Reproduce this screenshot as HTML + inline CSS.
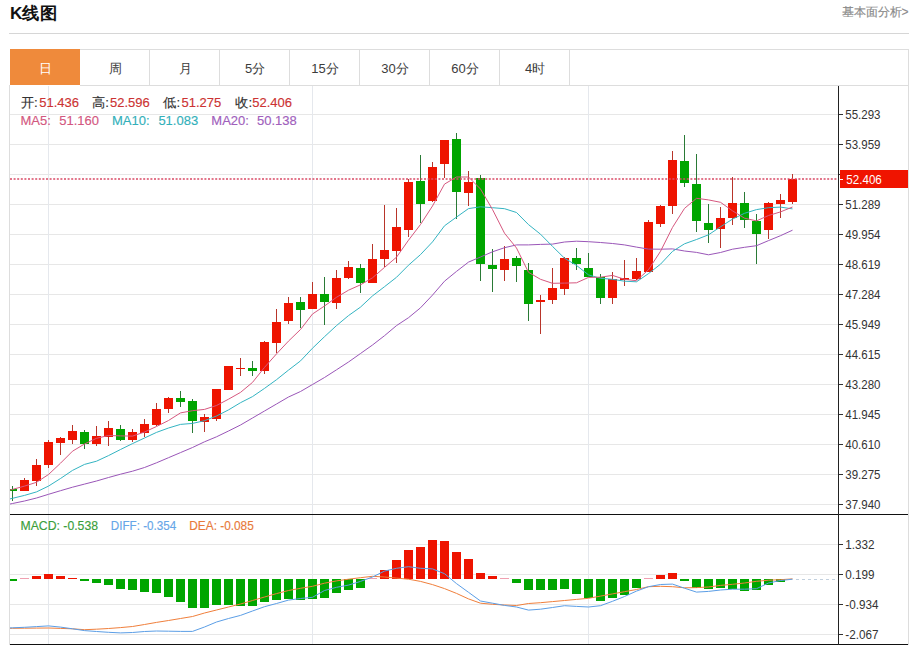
<!DOCTYPE html>
<html><head><meta charset="utf-8"><title>K线图</title>
<style>
html,body{margin:0;padding:0;background:#fff;}
body{width:915px;height:645px;overflow:hidden;position:relative;font-family:"Liberation Sans",sans-serif;}
</style></head><body>
<svg width="915" height="645" viewBox="0 0 915 645" style="position:absolute;left:0;top:0"><defs><clipPath id="cp"><rect x="10" y="86" width="828" height="428"/></clipPath><clipPath id="cp2"><rect x="10" y="515" width="828" height="129"/></clipPath></defs><rect x="9" y="33" width="900" height="1" fill="#d6d6d6"/><rect x="80" y="49" width="829" height="1" fill="#dddddd"/><rect x="80" y="85" width="829" height="1" fill="#dddddd"/><rect x="10" y="49" width="70" height="36" fill="#ef8a3b"/><rect x="149" y="50" width="1" height="35" fill="#dddddd"/><rect x="219" y="50" width="1" height="35" fill="#dddddd"/><rect x="289" y="50" width="1" height="35" fill="#dddddd"/><rect x="359" y="50" width="1" height="35" fill="#dddddd"/><rect x="429" y="50" width="1" height="35" fill="#dddddd"/><rect x="499" y="50" width="1" height="35" fill="#dddddd"/><rect x="569" y="50" width="1" height="35" fill="#dddddd"/><rect x="9" y="85" width="1" height="560" fill="#dddddd"/><rect x="908" y="49" width="1" height="596" fill="#dddddd"/><rect x="10" y="114" width="828" height="1" fill="#e7e7e7"/><rect x="10" y="144" width="828" height="1" fill="#e7e7e7"/><rect x="10" y="174" width="828" height="1" fill="#e7e7e7"/><rect x="10" y="204" width="828" height="1" fill="#e7e7e7"/><rect x="10" y="234" width="828" height="1" fill="#e7e7e7"/><rect x="10" y="264" width="828" height="1" fill="#e7e7e7"/><rect x="10" y="294" width="828" height="1" fill="#e7e7e7"/><rect x="10" y="324" width="828" height="1" fill="#e7e7e7"/><rect x="10" y="354" width="828" height="1" fill="#e7e7e7"/><rect x="10" y="384" width="828" height="1" fill="#e7e7e7"/><rect x="10" y="414" width="828" height="1" fill="#e7e7e7"/><rect x="10" y="444" width="828" height="1" fill="#e7e7e7"/><rect x="10" y="474" width="828" height="1" fill="#e7e7e7"/><rect x="10" y="504" width="828" height="1" fill="#e7e7e7"/><rect x="10" y="544" width="828" height="1" fill="#e7e7e7"/><rect x="10" y="574" width="828" height="1" fill="#e7e7e7"/><rect x="10" y="604" width="828" height="1" fill="#e7e7e7"/><rect x="10" y="634" width="828" height="1" fill="#e7e7e7"/><rect x="48" y="86" width="1" height="428" fill="#e5e8ed"/><rect x="48" y="515" width="1" height="129" fill="#e5e8ed"/><rect x="312" y="86" width="1" height="428" fill="#e5e8ed"/><rect x="312" y="515" width="1" height="129" fill="#e5e8ed"/><rect x="588" y="86" width="1" height="428" fill="#e5e8ed"/><rect x="588" y="515" width="1" height="129" fill="#e5e8ed"/><g clip-path="url(#cp)"><rect x="12" y="486" width="1" height="15" fill="#2a7a36"/><rect x="8" y="489" width="9" height="2" fill="#00a500"/><rect x="24" y="478" width="1" height="13" fill="#b8352a"/><rect x="20" y="480" width="9" height="11" fill="#ee1400"/><rect x="36" y="459" width="1" height="27" fill="#b8352a"/><rect x="32" y="465" width="9" height="16" fill="#ee1400"/><rect x="48" y="440" width="1" height="28" fill="#b8352a"/><rect x="44" y="442" width="9" height="23" fill="#ee1400"/><rect x="60" y="437" width="1" height="18" fill="#b8352a"/><rect x="56" y="438" width="9" height="5" fill="#ee1400"/><rect x="72" y="425" width="1" height="19" fill="#b8352a"/><rect x="68" y="431" width="9" height="9" fill="#ee1400"/><rect x="84" y="430" width="1" height="19" fill="#2a7a36"/><rect x="80" y="432" width="9" height="12" fill="#00a500"/><rect x="96" y="426" width="1" height="20" fill="#b8352a"/><rect x="92" y="436" width="9" height="8" fill="#ee1400"/><rect x="108" y="421" width="1" height="25" fill="#b8352a"/><rect x="104" y="428" width="9" height="9" fill="#ee1400"/><rect x="120" y="425" width="1" height="16" fill="#2a7a36"/><rect x="116" y="429" width="9" height="11" fill="#00a500"/><rect x="132" y="429" width="1" height="13" fill="#b8352a"/><rect x="128" y="432" width="9" height="8" fill="#ee1400"/><rect x="144" y="419" width="1" height="18" fill="#b8352a"/><rect x="140" y="424" width="9" height="9" fill="#ee1400"/><rect x="156" y="403" width="1" height="23" fill="#b8352a"/><rect x="152" y="409" width="9" height="16" fill="#ee1400"/><rect x="168" y="397" width="1" height="16" fill="#b8352a"/><rect x="164" y="398" width="9" height="11" fill="#ee1400"/><rect x="180" y="391" width="1" height="16" fill="#2a7a36"/><rect x="176" y="398" width="9" height="4" fill="#00a500"/><rect x="192" y="399" width="1" height="34" fill="#2a7a36"/><rect x="188" y="401" width="9" height="20" fill="#00a500"/><rect x="204" y="414" width="1" height="18" fill="#b8352a"/><rect x="200" y="417" width="9" height="5" fill="#ee1400"/><rect x="216" y="389" width="1" height="32" fill="#b8352a"/><rect x="212" y="389" width="9" height="30" fill="#ee1400"/><rect x="228" y="366" width="1" height="24" fill="#b8352a"/><rect x="224" y="366" width="9" height="24" fill="#ee1400"/><rect x="240" y="358" width="1" height="18" fill="#b8352a"/><rect x="236" y="368" width="9" height="1" fill="#ee1400"/><rect x="252" y="361" width="1" height="15" fill="#2a7a36"/><rect x="248" y="368" width="9" height="3" fill="#00a500"/><rect x="264" y="341" width="1" height="33" fill="#b8352a"/><rect x="260" y="342" width="9" height="29" fill="#ee1400"/><rect x="276" y="309" width="1" height="44" fill="#b8352a"/><rect x="272" y="322" width="9" height="21" fill="#ee1400"/><rect x="288" y="297" width="1" height="27" fill="#b8352a"/><rect x="284" y="303" width="9" height="18" fill="#ee1400"/><rect x="300" y="297" width="1" height="31" fill="#2a7a36"/><rect x="296" y="302" width="9" height="8" fill="#00a500"/><rect x="312" y="282" width="1" height="27" fill="#b8352a"/><rect x="308" y="294" width="9" height="15" fill="#ee1400"/><rect x="324" y="277" width="1" height="48" fill="#2a7a36"/><rect x="320" y="294" width="9" height="8" fill="#00a500"/><rect x="336" y="270" width="1" height="39" fill="#b8352a"/><rect x="332" y="278" width="9" height="25" fill="#ee1400"/><rect x="348" y="261" width="1" height="18" fill="#b8352a"/><rect x="344" y="267" width="9" height="11" fill="#ee1400"/><rect x="360" y="264" width="1" height="29" fill="#2a7a36"/><rect x="356" y="268" width="9" height="15" fill="#00a500"/><rect x="372" y="244" width="1" height="39" fill="#b8352a"/><rect x="368" y="259" width="9" height="24" fill="#ee1400"/><rect x="384" y="205" width="1" height="62" fill="#b8352a"/><rect x="380" y="250" width="9" height="9" fill="#ee1400"/><rect x="396" y="208" width="1" height="55" fill="#b8352a"/><rect x="392" y="227" width="9" height="24" fill="#ee1400"/><rect x="408" y="179" width="1" height="58" fill="#b8352a"/><rect x="404" y="182" width="9" height="48" fill="#ee1400"/><rect x="420" y="155" width="1" height="68" fill="#2a7a36"/><rect x="416" y="181" width="9" height="23" fill="#00a500"/><rect x="432" y="162" width="1" height="40" fill="#b8352a"/><rect x="428" y="167" width="9" height="34" fill="#ee1400"/><rect x="444" y="140" width="1" height="38" fill="#b8352a"/><rect x="440" y="140" width="9" height="24" fill="#ee1400"/><rect x="456" y="133" width="1" height="86" fill="#2a7a36"/><rect x="452" y="139" width="9" height="53" fill="#00a500"/><rect x="468" y="171" width="1" height="35" fill="#b8352a"/><rect x="464" y="182" width="9" height="11" fill="#ee1400"/><rect x="480" y="175" width="1" height="106" fill="#2a7a36"/><rect x="476" y="178" width="9" height="86" fill="#00a500"/><rect x="492" y="249" width="1" height="43" fill="#2a7a36"/><rect x="488" y="265" width="9" height="4" fill="#00a500"/><rect x="504" y="246" width="1" height="35" fill="#b8352a"/><rect x="500" y="259" width="9" height="11" fill="#ee1400"/><rect x="516" y="256" width="1" height="26" fill="#2a7a36"/><rect x="512" y="258" width="9" height="8" fill="#00a500"/><rect x="528" y="263" width="1" height="58" fill="#2a7a36"/><rect x="524" y="270" width="9" height="34" fill="#00a500"/><rect x="540" y="295" width="1" height="39" fill="#b8352a"/><rect x="536" y="300" width="9" height="2" fill="#ee1400"/><rect x="552" y="268" width="1" height="36" fill="#b8352a"/><rect x="548" y="288" width="9" height="12" fill="#ee1400"/><rect x="564" y="257" width="1" height="38" fill="#b8352a"/><rect x="560" y="258" width="9" height="31" fill="#ee1400"/><rect x="576" y="248" width="1" height="22" fill="#2a7a36"/><rect x="572" y="258" width="9" height="6" fill="#00a500"/><rect x="588" y="253" width="1" height="24" fill="#2a7a36"/><rect x="584" y="268" width="9" height="9" fill="#00a500"/><rect x="600" y="274" width="1" height="30" fill="#2a7a36"/><rect x="596" y="277" width="9" height="21" fill="#00a500"/><rect x="612" y="272" width="1" height="32" fill="#b8352a"/><rect x="608" y="279" width="9" height="19" fill="#ee1400"/><rect x="624" y="260" width="1" height="26" fill="#b8352a"/><rect x="620" y="278" width="9" height="2" fill="#ee1400"/><rect x="636" y="258" width="1" height="22" fill="#b8352a"/><rect x="632" y="271" width="9" height="8" fill="#ee1400"/><rect x="648" y="220" width="1" height="52" fill="#b8352a"/><rect x="644" y="222" width="9" height="50" fill="#ee1400"/><rect x="660" y="205" width="1" height="22" fill="#b8352a"/><rect x="656" y="206" width="9" height="18" fill="#ee1400"/><rect x="672" y="151" width="1" height="63" fill="#b8352a"/><rect x="668" y="160" width="9" height="46" fill="#ee1400"/><rect x="684" y="135" width="1" height="52" fill="#2a7a36"/><rect x="680" y="161" width="9" height="22" fill="#00a500"/><rect x="696" y="154" width="1" height="78" fill="#2a7a36"/><rect x="692" y="184" width="9" height="37" fill="#00a500"/><rect x="708" y="204" width="1" height="39" fill="#2a7a36"/><rect x="704" y="223" width="9" height="7" fill="#00a500"/><rect x="720" y="207" width="1" height="41" fill="#b8352a"/><rect x="716" y="218" width="9" height="11" fill="#ee1400"/><rect x="732" y="177" width="1" height="48" fill="#b8352a"/><rect x="728" y="203" width="9" height="15" fill="#ee1400"/><rect x="744" y="192" width="1" height="36" fill="#2a7a36"/><rect x="740" y="203" width="9" height="17" fill="#00a500"/><rect x="756" y="214" width="1" height="50" fill="#2a7a36"/><rect x="752" y="221" width="9" height="13" fill="#00a500"/><rect x="768" y="202" width="1" height="37" fill="#b8352a"/><rect x="764" y="203" width="9" height="27" fill="#ee1400"/><rect x="780" y="194" width="1" height="24" fill="#b8352a"/><rect x="776" y="200" width="9" height="4" fill="#ee1400"/><rect x="792" y="174" width="1" height="30" fill="#b8352a"/><rect x="788" y="179" width="9" height="23" fill="#ee1400"/><polyline points="0.5,506.0 12.5,503.5 24.5,501.0 36.5,498.0 48.5,494.3 60.5,490.7 72.5,487.2 84.5,484.1 96.5,481.0 108.5,477.5 120.5,474.2 132.5,471.2 144.5,467.5 156.5,462.8 168.5,457.7 180.5,452.6 192.5,447.5 204.5,441.8 216.5,436.8 228.5,431.0 240.5,425.0 252.5,418.0 264.5,411.0 276.5,404.0 288.5,397.0 300.5,391.5 312.5,384.5 324.5,377.5 336.5,369.8 348.5,362.0 360.5,353.5 372.5,345.0 384.5,335.7 396.5,325.6 408.5,317.7 420.5,307.8 432.5,295.1 444.5,281.2 456.5,271.4 468.5,262.1 480.5,257.0 492.5,251.8 504.5,247.7 516.5,244.9 528.5,244.9 540.5,244.4 552.5,244.1 564.5,242.0 576.5,241.2 588.5,241.7 600.5,242.5 612.5,243.5 624.5,244.9 636.5,247.1 648.5,249.1 660.5,249.2 672.5,248.9 684.5,251.0 696.5,252.4 708.5,254.8 720.5,252.5 732.5,249.2 744.5,247.3 756.5,245.7 768.5,240.6 780.5,235.7 792.5,230.2" fill="none" stroke="#9a56b8" stroke-width="1" /><polyline points="0.5,501.2 12.5,498.3 24.5,495.4 36.5,491.9 48.5,486.1 60.5,478.5 72.5,470.4 84.5,464.4 96.5,461.2 108.5,455.6 120.5,449.5 132.5,443.6 144.5,438.0 156.5,432.4 168.5,428.0 180.5,424.4 192.5,423.4 204.5,420.7 216.5,416.0 228.5,409.9 240.5,402.7 252.5,396.6 264.5,388.4 276.5,379.7 288.5,370.1 300.5,360.9 312.5,348.2 324.5,336.7 336.5,325.6 348.5,315.6 360.5,307.1 372.5,295.9 384.5,286.7 396.5,277.3 408.5,265.2 420.5,254.6 432.5,241.9 444.5,225.8 456.5,217.1 468.5,208.6 480.5,206.8 492.5,207.7 504.5,208.7 516.5,212.5 528.5,224.6 540.5,234.2 552.5,246.4 564.5,258.2 576.5,265.4 588.5,274.9 600.5,278.3 612.5,279.3 624.5,281.2 636.5,281.8 648.5,273.6 660.5,264.2 672.5,251.4 684.5,243.8 696.5,239.5 708.5,234.8 720.5,226.8 732.5,219.1 744.5,213.3 756.5,209.6 768.5,207.7 780.5,207.1 792.5,208.9" fill="none" stroke="#34b4c2" stroke-width="1" /><polyline points="0.5,492.7 12.5,489.4 24.5,486.1 36.5,482.3 48.5,474.5 60.5,463.2 72.5,451.2 84.5,444.0 96.5,438.3 108.5,435.5 120.5,435.9 132.5,436.1 144.5,432.0 156.5,426.5 168.5,420.5 180.5,412.9 192.5,410.7 204.5,409.4 216.5,405.5 228.5,399.2 240.5,392.4 252.5,382.4 264.5,367.4 276.5,353.9 288.5,341.1 300.5,329.5 312.5,314.0 324.5,306.0 336.5,297.3 348.5,290.2 360.5,284.8 372.5,277.8 384.5,267.4 396.5,257.2 408.5,240.2 420.5,224.5 432.5,206.0 444.5,184.1 456.5,177.0 468.5,177.0 480.5,189.0 492.5,209.5 504.5,233.2 516.5,248.0 528.5,272.3 540.5,279.3 552.5,283.3 564.5,283.1 576.5,282.8 588.5,277.4 600.5,277.2 612.5,275.4 624.5,279.3 636.5,280.7 648.5,269.7 660.5,251.3 672.5,227.4 684.5,208.4 696.5,198.3 708.5,199.9 720.5,202.3 732.5,210.8 744.5,218.2 756.5,220.9 768.5,215.5 780.5,211.9 792.5,207.0" fill="none" stroke="#d6587f" stroke-width="1" /><line x1="10" y1="179" x2="838" y2="179" stroke="#d94a66" stroke-width="1.6" stroke-dasharray="2 1.6"/></g><g clip-path="url(#cp2)"><rect x="8" y="579" width="9" height="2" fill="#00a500"/><rect x="20" y="578" width="9" height="1" fill="#f0a0b0"/><rect x="32" y="576" width="9" height="3" fill="#ee1400"/><rect x="44" y="574" width="9" height="5" fill="#ee1400"/><rect x="56" y="576" width="9" height="3" fill="#ee1400"/><rect x="68" y="578" width="9" height="1" fill="#ee1400"/><rect x="80" y="579" width="9" height="2" fill="#00a500"/><rect x="92" y="579" width="9" height="4" fill="#00a500"/><rect x="104" y="579" width="9" height="6" fill="#00a500"/><rect x="116" y="579" width="9" height="10" fill="#00a500"/><rect x="128" y="579" width="9" height="11" fill="#00a500"/><rect x="140" y="579" width="9" height="13" fill="#00a500"/><rect x="152" y="579" width="9" height="14" fill="#00a500"/><rect x="164" y="579" width="9" height="18" fill="#00a500"/><rect x="176" y="579" width="9" height="23" fill="#00a500"/><rect x="188" y="579" width="9" height="29" fill="#00a500"/><rect x="200" y="579" width="9" height="29" fill="#00a500"/><rect x="212" y="579" width="9" height="26" fill="#00a500"/><rect x="224" y="579" width="9" height="26" fill="#00a500"/><rect x="236" y="579" width="9" height="27" fill="#00a500"/><rect x="248" y="579" width="9" height="27" fill="#00a500"/><rect x="260" y="579" width="9" height="23" fill="#00a500"/><rect x="272" y="579" width="9" height="21" fill="#00a500"/><rect x="284" y="579" width="9" height="20" fill="#00a500"/><rect x="296" y="579" width="9" height="21" fill="#00a500"/><rect x="308" y="579" width="9" height="20" fill="#00a500"/><rect x="320" y="579" width="9" height="19" fill="#00a500"/><rect x="332" y="579" width="9" height="14" fill="#00a500"/><rect x="344" y="579" width="9" height="11" fill="#00a500"/><rect x="356" y="579" width="9" height="9" fill="#00a500"/><rect x="368" y="578" width="9" height="1" fill="#f0a0b0"/><rect x="380" y="570" width="9" height="9" fill="#ee1400"/><rect x="392" y="560" width="9" height="19" fill="#ee1400"/><rect x="404" y="550" width="9" height="29" fill="#ee1400"/><rect x="416" y="547" width="9" height="32" fill="#ee1400"/><rect x="428" y="540" width="9" height="39" fill="#ee1400"/><rect x="440" y="541" width="9" height="38" fill="#ee1400"/><rect x="452" y="552" width="9" height="27" fill="#ee1400"/><rect x="464" y="559" width="9" height="20" fill="#ee1400"/><rect x="476" y="573" width="9" height="6" fill="#ee1400"/><rect x="488" y="576" width="9" height="3" fill="#ee1400"/><rect x="500" y="578" width="9" height="1" fill="#f0a0b0"/><rect x="512" y="579" width="9" height="4" fill="#00a500"/><rect x="524" y="579" width="9" height="11" fill="#00a500"/><rect x="536" y="579" width="9" height="11" fill="#00a500"/><rect x="548" y="579" width="9" height="11" fill="#00a500"/><rect x="560" y="579" width="9" height="10" fill="#00a500"/><rect x="572" y="579" width="9" height="15" fill="#00a500"/><rect x="584" y="579" width="9" height="19" fill="#00a500"/><rect x="596" y="579" width="9" height="22" fill="#00a500"/><rect x="608" y="579" width="9" height="19" fill="#00a500"/><rect x="620" y="579" width="9" height="16" fill="#00a500"/><rect x="632" y="579" width="9" height="9" fill="#00a500"/><rect x="644" y="578" width="9" height="1" fill="#f0a0b0"/><rect x="656" y="575" width="9" height="4" fill="#ee1400"/><rect x="668" y="573" width="9" height="6" fill="#ee1400"/><rect x="680" y="579" width="9" height="2" fill="#00a500"/><rect x="692" y="579" width="9" height="9" fill="#00a500"/><rect x="704" y="579" width="9" height="10" fill="#00a500"/><rect x="716" y="579" width="9" height="9" fill="#00a500"/><rect x="728" y="579" width="9" height="10" fill="#00a500"/><rect x="740" y="579" width="9" height="12" fill="#00a500"/><rect x="752" y="579" width="9" height="11" fill="#00a500"/><rect x="764" y="579" width="9" height="6" fill="#00a500"/><rect x="776" y="579" width="9" height="3" fill="#00a500"/><polyline points="0.5,628.4 12.5,628.3 24.5,628.2 36.5,628.1 48.5,628.0 60.5,628.4 72.5,628.8 84.5,629.7 96.5,629.2 108.5,628.5 120.5,627.6 132.5,626.5 144.5,624.5 156.5,622.4 168.5,620.5 180.5,618.5 192.5,616.5 204.5,613.0 216.5,610.0 228.5,607.0 240.5,604.0 252.5,600.5 264.5,597.0 276.5,593.6 288.5,590.5 300.5,588.3 312.5,586.3 324.5,583.2 336.5,580.9 348.5,579.2 360.5,577.7 372.5,576.3 384.5,577.0 396.5,578.1 408.5,579.2 420.5,581.4 432.5,584.6 444.5,588.6 456.5,593.4 468.5,598.9 480.5,603.2 492.5,604.3 504.5,605.0 516.5,605.5 528.5,603.5 540.5,602.7 552.5,601.6 564.5,600.5 576.5,599.4 588.5,598.3 600.5,596.1 612.5,593.9 624.5,591.7 636.5,589.5 648.5,586.7 660.5,586.3 672.5,586.7 684.5,587.8 696.5,587.6 708.5,587.0 720.5,585.4 732.5,584.3 744.5,583.0 756.5,581.3 768.5,580.2 780.5,579.7 792.5,578.9" fill="none" stroke="#f07f3c" stroke-width="1"/><polyline points="0.5,628.3 12.5,627.8 24.5,627.3 36.5,626.6 48.5,625.9 60.5,627.1 72.5,628.8 84.5,630.6 96.5,631.5 108.5,632.3 120.5,632.9 132.5,632.5 144.5,631.5 156.5,631.0 168.5,631.2 180.5,631.4 192.5,631.4 204.5,627.0 216.5,622.0 228.5,618.5 240.5,615.4 252.5,611.0 264.5,606.7 276.5,603.5 288.5,600.1 300.5,598.5 312.5,597.3 324.5,590.5 336.5,587.3 348.5,585.1 360.5,581.4 372.5,577.0 384.5,571.1 396.5,568.3 408.5,566.7 420.5,568.3 432.5,568.9 444.5,573.7 456.5,583.6 468.5,592.3 480.5,601.0 492.5,603.2 504.5,605.4 516.5,607.0 528.5,610.1 540.5,609.2 552.5,607.5 564.5,605.7 576.5,606.4 588.5,607.0 600.5,605.7 612.5,601.3 624.5,596.5 636.5,591.1 648.5,586.7 660.5,584.5 672.5,584.1 684.5,588.2 696.5,592.1 708.5,591.4 720.5,590.0 732.5,589.2 744.5,589.2 756.5,588.7 768.5,583.0 780.5,580.5 792.5,579.2" fill="none" stroke="#5b9ee6" stroke-width="1"/><line x1="796" y1="579.5" x2="838" y2="579.5" stroke="#c2d0de" stroke-width="1" stroke-dasharray="3 3"/></g><rect x="10" y="514" width="898" height="1" fill="#111"/><rect x="10" y="644" width="898" height="1" fill="#111"/><rect x="838" y="86" width="1" height="559" fill="#222"/><rect x="839" y="114" width="4" height="1" fill="#333"/><text x="845.3" y="118.5" font-family="Liberation Sans, sans-serif" font-size="13" fill="#333" textLength="35.2" lengthAdjust="spacingAndGlyphs">55.293</text><rect x="839" y="144" width="4" height="1" fill="#333"/><text x="845.3" y="148.5" font-family="Liberation Sans, sans-serif" font-size="13" fill="#333" textLength="35.2" lengthAdjust="spacingAndGlyphs">53.959</text><rect x="839" y="174" width="4" height="1" fill="#333"/><text x="845.3" y="178.5" font-family="Liberation Sans, sans-serif" font-size="13" fill="#333" textLength="35.2" lengthAdjust="spacingAndGlyphs">52.624</text><rect x="839" y="204" width="4" height="1" fill="#333"/><text x="845.3" y="208.5" font-family="Liberation Sans, sans-serif" font-size="13" fill="#333" textLength="35.2" lengthAdjust="spacingAndGlyphs">51.289</text><rect x="839" y="234" width="4" height="1" fill="#333"/><text x="845.3" y="238.5" font-family="Liberation Sans, sans-serif" font-size="13" fill="#333" textLength="35.2" lengthAdjust="spacingAndGlyphs">49.954</text><rect x="839" y="264" width="4" height="1" fill="#333"/><text x="845.3" y="268.5" font-family="Liberation Sans, sans-serif" font-size="13" fill="#333" textLength="35.2" lengthAdjust="spacingAndGlyphs">48.619</text><rect x="839" y="294" width="4" height="1" fill="#333"/><text x="845.3" y="298.5" font-family="Liberation Sans, sans-serif" font-size="13" fill="#333" textLength="35.2" lengthAdjust="spacingAndGlyphs">47.284</text><rect x="839" y="324" width="4" height="1" fill="#333"/><text x="845.3" y="328.5" font-family="Liberation Sans, sans-serif" font-size="13" fill="#333" textLength="35.2" lengthAdjust="spacingAndGlyphs">45.949</text><rect x="839" y="354" width="4" height="1" fill="#333"/><text x="845.3" y="358.5" font-family="Liberation Sans, sans-serif" font-size="13" fill="#333" textLength="35.2" lengthAdjust="spacingAndGlyphs">44.615</text><rect x="839" y="384" width="4" height="1" fill="#333"/><text x="845.3" y="388.5" font-family="Liberation Sans, sans-serif" font-size="13" fill="#333" textLength="35.2" lengthAdjust="spacingAndGlyphs">43.280</text><rect x="839" y="414" width="4" height="1" fill="#333"/><text x="845.3" y="418.5" font-family="Liberation Sans, sans-serif" font-size="13" fill="#333" textLength="35.2" lengthAdjust="spacingAndGlyphs">41.945</text><rect x="839" y="444" width="4" height="1" fill="#333"/><text x="845.3" y="448.5" font-family="Liberation Sans, sans-serif" font-size="13" fill="#333" textLength="35.2" lengthAdjust="spacingAndGlyphs">40.610</text><rect x="839" y="474" width="4" height="1" fill="#333"/><text x="845.3" y="478.5" font-family="Liberation Sans, sans-serif" font-size="13" fill="#333" textLength="35.2" lengthAdjust="spacingAndGlyphs">39.275</text><rect x="839" y="504" width="4" height="1" fill="#333"/><text x="845.3" y="508.5" font-family="Liberation Sans, sans-serif" font-size="13" fill="#333" textLength="35.2" lengthAdjust="spacingAndGlyphs">37.940</text><rect x="839" y="544" width="4" height="1" fill="#333"/><text x="845.3" y="548.5" font-family="Liberation Sans, sans-serif" font-size="13" fill="#333" textLength="29.3" lengthAdjust="spacingAndGlyphs">1.332</text><rect x="839" y="574" width="4" height="1" fill="#333"/><text x="845.3" y="578.5" font-family="Liberation Sans, sans-serif" font-size="13" fill="#333" textLength="29.3" lengthAdjust="spacingAndGlyphs">0.199</text><rect x="839" y="604" width="4" height="1" fill="#333"/><text x="845.3" y="608.5" font-family="Liberation Sans, sans-serif" font-size="13" fill="#333" textLength="33.2" lengthAdjust="spacingAndGlyphs">-0.934</text><rect x="839" y="634" width="4" height="1" fill="#333"/><text x="845.3" y="638.5" font-family="Liberation Sans, sans-serif" font-size="13" fill="#333" textLength="33.2" lengthAdjust="spacingAndGlyphs">-2.067</text><rect x="840" y="170" width="68" height="18" fill="#f01400"/><rect x="840" y="179" width="3" height="1" fill="#fff"/><text x="846.3" y="183.7" font-family="Liberation Sans, sans-serif" font-size="13" fill="#fff" textLength="35.5" lengthAdjust="spacingAndGlyphs">52.406</text><text x="20.7" y="107" font-family="Liberation Sans, sans-serif" font-size="13" fill="#333" textLength="17" lengthAdjust="spacingAndGlyphs" stroke="#333" stroke-width="0.15">开:</text><text x="39.2" y="107" font-family="Liberation Sans, sans-serif" font-size="13" fill="#cc3333" stroke="#cc3333" stroke-width="0.15">51.436</text><text x="92" y="107" font-family="Liberation Sans, sans-serif" font-size="13" fill="#333" textLength="17" lengthAdjust="spacingAndGlyphs" stroke="#333" stroke-width="0.15">高:</text><text x="110" y="107" font-family="Liberation Sans, sans-serif" font-size="13" fill="#cc3333" stroke="#cc3333" stroke-width="0.15">52.596</text><text x="163.1" y="107" font-family="Liberation Sans, sans-serif" font-size="13" fill="#333" textLength="17" lengthAdjust="spacingAndGlyphs" stroke="#333" stroke-width="0.15">低:</text><text x="181.5" y="107" font-family="Liberation Sans, sans-serif" font-size="13" fill="#cc3333" stroke="#cc3333" stroke-width="0.15">51.275</text><text x="235.3" y="107" font-family="Liberation Sans, sans-serif" font-size="13" fill="#333" textLength="17" lengthAdjust="spacingAndGlyphs" stroke="#333" stroke-width="0.15">收:</text><text x="252.3" y="107" font-family="Liberation Sans, sans-serif" font-size="13" fill="#cc3333" stroke="#cc3333" stroke-width="0.15">52.406</text><text x="20.5" y="124.7" font-family="Liberation Sans, sans-serif" font-size="13" fill="#d3587f" stroke="#d3587f" stroke-width="0.15">MA5:</text><text x="59.2" y="124.7" font-family="Liberation Sans, sans-serif" font-size="13" fill="#d3587f" stroke="#d3587f" stroke-width="0.15">51.160</text><text x="112" y="124.7" font-family="Liberation Sans, sans-serif" font-size="13" fill="#33b0ba" stroke="#33b0ba" stroke-width="0.15">MA10:</text><text x="158.4" y="124.7" font-family="Liberation Sans, sans-serif" font-size="13" fill="#33b0ba" stroke="#33b0ba" stroke-width="0.15">51.083</text><text x="211.3" y="124.7" font-family="Liberation Sans, sans-serif" font-size="13" fill="#a060bc" stroke="#a060bc" stroke-width="0.15">MA20:</text><text x="257" y="124.7" font-family="Liberation Sans, sans-serif" font-size="13" fill="#a060bc" stroke="#a060bc" stroke-width="0.15">50.138</text><text x="20.5" y="529.6" font-family="Liberation Sans, sans-serif" font-size="13" fill="#3a9e3a" textLength="77.5" lengthAdjust="spacingAndGlyphs" stroke="#3a9e3a" stroke-width="0.15">MACD: -0.538</text><text x="110.8" y="529.6" font-family="Liberation Sans, sans-serif" font-size="13" fill="#65a6e8" textLength="65.4" lengthAdjust="spacingAndGlyphs" stroke="#65a6e8" stroke-width="0.15">DIFF: -0.354</text><text x="189.3" y="529.6" font-family="Liberation Sans, sans-serif" font-size="13" fill="#e8793a" textLength="64.5" lengthAdjust="spacingAndGlyphs" stroke="#e8793a" stroke-width="0.15">DEA: -0.085</text><text x="10" y="18.8" font-family="Liberation Sans, sans-serif" font-size="17" fill="#111" textLength="47" lengthAdjust="spacingAndGlyphs" font-weight="bold">K线图</text><text x="841.6" y="15.7" font-family="Liberation Sans, sans-serif" font-size="12" fill="#8a8a8a" textLength="67" lengthAdjust="spacingAndGlyphs" stroke="#8a8a8a" stroke-width="0.15">基本面分析&gt;</text><text x="45" y="72.6" font-family="Liberation Sans, sans-serif" font-size="13" fill="#fff" text-anchor="middle" textLength="13" lengthAdjust="spacingAndGlyphs">日</text><text x="115" y="72.6" font-family="Liberation Sans, sans-serif" font-size="13" fill="#3c3c3c" text-anchor="middle" textLength="13" lengthAdjust="spacingAndGlyphs">周</text><text x="185" y="72.6" font-family="Liberation Sans, sans-serif" font-size="13" fill="#3c3c3c" text-anchor="middle" textLength="13" lengthAdjust="spacingAndGlyphs">月</text><text x="255" y="72.6" font-family="Liberation Sans, sans-serif" font-size="13" fill="#3c3c3c" text-anchor="middle" textLength="20.2" lengthAdjust="spacingAndGlyphs">5分</text><text x="325" y="72.6" font-family="Liberation Sans, sans-serif" font-size="13" fill="#3c3c3c" text-anchor="middle" textLength="27.5" lengthAdjust="spacingAndGlyphs">15分</text><text x="395" y="72.6" font-family="Liberation Sans, sans-serif" font-size="13" fill="#3c3c3c" text-anchor="middle" textLength="27.5" lengthAdjust="spacingAndGlyphs">30分</text><text x="465" y="72.6" font-family="Liberation Sans, sans-serif" font-size="13" fill="#3c3c3c" text-anchor="middle" textLength="27.5" lengthAdjust="spacingAndGlyphs">60分</text><text x="535" y="72.6" font-family="Liberation Sans, sans-serif" font-size="13" fill="#3c3c3c" text-anchor="middle" textLength="20.2" lengthAdjust="spacingAndGlyphs">4时</text></svg>
</body></html>
